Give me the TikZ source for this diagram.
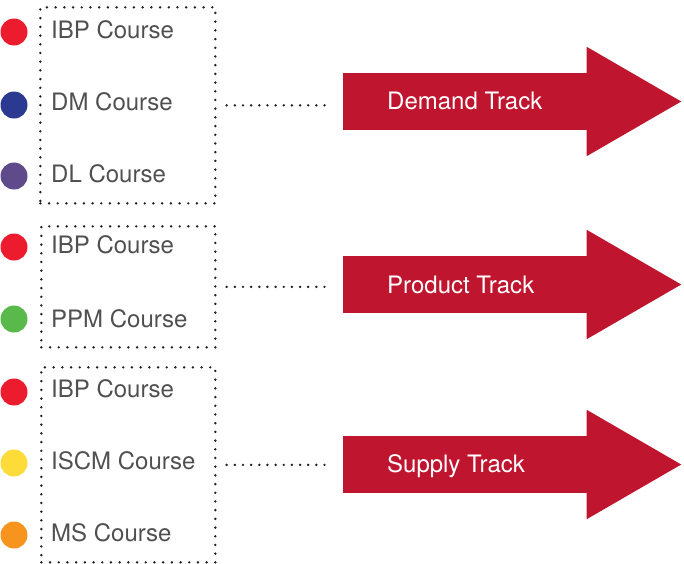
\documentclass[tikz,border=0pt]{standalone}
\usepackage{fontspec}
\setmainfont{TeX Gyre Heros}
\usepackage{xcolor}
\definecolor{trackred}{HTML}{C0152F}
\definecolor{ibpred}{HTML}{EC1C2E}
\definecolor{dmblue}{HTML}{2B3990}
\definecolor{dlpurple}{HTML}{5F4B8B}
\definecolor{ppmgreen}{HTML}{59B94B}
\definecolor{iscmyellow}{HTML}{FDDC3A}
\definecolor{msorange}{HTML}{F7941D}
\definecolor{coursegray}{HTML}{505050}
\definecolor{dotgray}{HTML}{231F20}

\tikzset{
  bullet/.style={circle, fill=#1, minimum size=27pt, inner sep=0pt},
  course/.style={anchor=base west, inner sep=0pt, text=coursegray, font=\fontsize{24}{28}\selectfont},
  dotbox/.style={draw=dotgray, line width=2.7pt, line cap=round, dash pattern=on 0pt off 8.7pt, anchor=north west, inner sep=0pt},
  dotline/.style={draw=dotgray, line width=2.7pt, line cap=round, dash pattern=on 0pt off 8.15pt, shorten <=10pt, shorten >=12pt},
  trackbody/.style={fill=trackred, minimum width=244pt, minimum height=57pt, inner sep=0pt},
  tracklabel/.style={anchor=base west, inner sep=0pt, text=white, font=\fontsize{24}{28}\selectfont},
}

\begin{document}
\begin{tikzpicture}[x=1pt, y=-1pt]
\useasboundingbox (0,0) rectangle (684,563);

% demand group
\node[dotbox, minimum width=175pt, minimum height=196pt] (boxD) at (39,6) {};
\node[bullet=ibpred] (ibpD) at (14,32) {};
\node[course] (ibpDtext) at (51,38) {IBP Course};
\node[bullet=dmblue] (dm) at (14,105) {};
\node[course] (dmtext) at (51,110) {DM Course};
\node[bullet=dlpurple] (dl) at (14,176) {};
\node[course] (dltext) at (51,182) {DL Course};

\node[trackbody] (demand) at (465,101.5) {};
\fill[trackred] ([xshift=-0.5pt,yshift=26pt]demand.north east) -- ([xshift=94pt]demand.east)
  -- ([xshift=-0.5pt,yshift=-26pt]demand.south east) -- cycle;%head
\node[tracklabel] (demandtext) at (387,109) {Demand Track};
\draw[dotline] (boxD.east) -- (boxD.east -| demand.west);

% product group
\node[dotbox, minimum width=174pt, minimum height=121pt] (boxP) at (40,225) {};
\node[bullet=ibpred] (ibpP) at (14,247) {};
\node[course] (ibpPtext) at (51,253) {IBP Course};
\node[bullet=ppmgreen] (ppm) at (14,319) {};
\node[course] (ppmtext) at (51,327) {PPM Course};

\node[trackbody] (product) at (465,284.5) {};
\fill[trackred] ([xshift=-0.5pt,yshift=26pt]product.north east) -- ([xshift=94pt]product.east)
  -- ([xshift=-0.5pt,yshift=-26pt]product.south east) -- cycle;%head
\node[tracklabel] (producttext) at (387,293) {Product Track};
\draw[dotline] (boxP.east) -- (boxP.east -| product.west);

% supply group
\node[dotbox, minimum width=174pt, minimum height=195pt] (boxS) at (40,366) {};
\node[bullet=ibpred] (ibpS) at (14,392) {};
\node[course] (ibpStext) at (51,397) {IBP Course};
\node[bullet=iscmyellow] (iscm) at (14,463) {};
\node[course] (iscmtext) at (51,469) {ISCM Course};
\node[bullet=msorange] (ms) at (14,535) {};
\node[course] (mstext) at (51,541) {MS Course};

\node[trackbody] (supply) at (465,464.5) {};
\fill[trackred] ([xshift=-0.5pt,yshift=26pt]supply.north east) -- ([xshift=94pt]supply.east)
  -- ([xshift=-0.5pt,yshift=-26pt]supply.south east) -- cycle;%head
\node[tracklabel] (supplytext) at (387,472) {Supply Track};
\draw[dotline] (boxS.east) -- (boxS.east -| supply.west);

\end{tikzpicture}
\end{document}
